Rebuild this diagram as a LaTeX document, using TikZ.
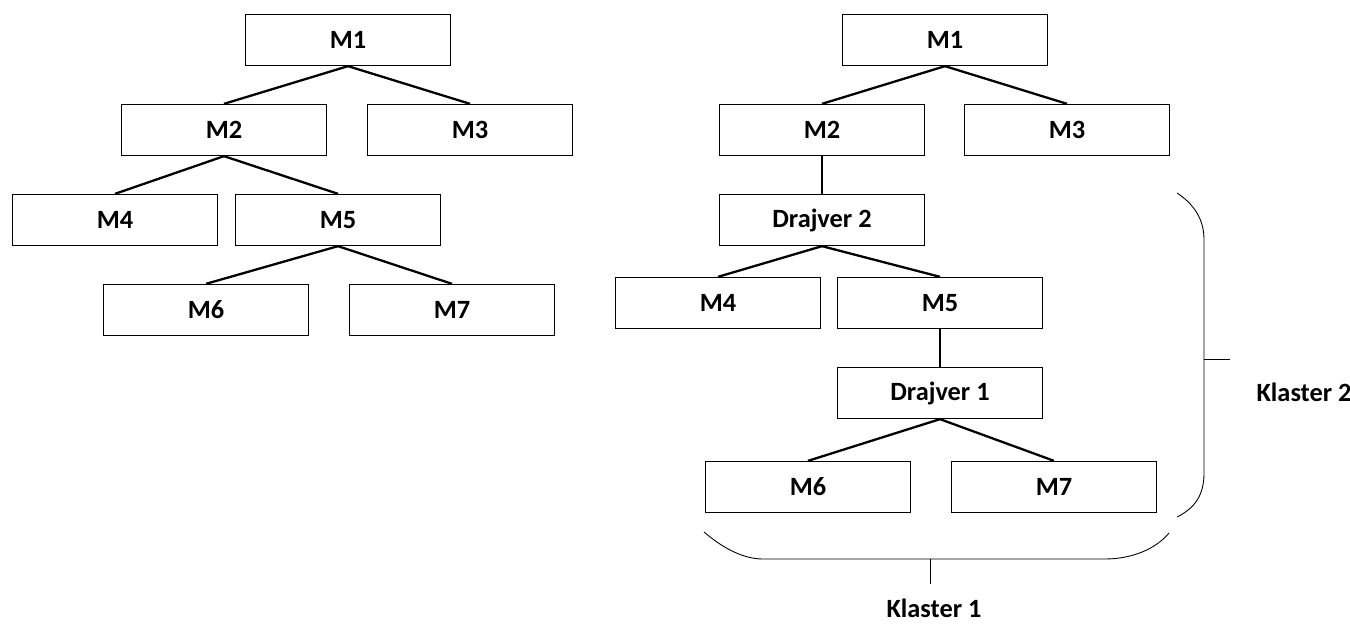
\documentclass[tikz,border=0pt]{standalone}
\usepackage{fontspec}
\setmainfont{Carlito}
\usetikzlibrary{positioning}
\tikzstyle{modul} = [rectangle, minimum width=4.1cm, minimum height=1.02cm, text centered, draw=black, line width=0.75pt, font=\fontsize{15}{17}\selectfont\bfseries]
\tikzstyle{veza} = [line width=1.3pt]
\tikzstyle{zagrada} = [line width=0.5pt]
\tikzstyle{klaster} = [font=\fontsize{15}{17}\selectfont\bfseries, inner sep=1pt]

\begin{document}
\begin{tikzpicture}[node distance=1.8cm]
\useasboundingbox (0,0) rectangle (27,-12.48);

% hijerarhija modula
\node (m1) [modul] at (6.96,-0.80) {M1};
\node (m2) [modul, below of=m1, xshift=-2.48cm] {M2};
\node (m3) [modul, below of=m1, xshift=2.44cm] {M3};
\node (m4) [modul, below of=m2, xshift=-2.18cm] {M4};
\node (m5) [modul, below of=m2, xshift=2.28cm] {M5};
\node (m6) [modul, below of=m5, xshift=-2.64cm] {M6};
\node (m7) [modul, below of=m5, xshift=2.28cm] {M7};

\draw [veza] (m1.south) -- (m2.north);
\draw [veza] (m1.south) -- (m3.north);
\draw [veza] (m2.south) -- (m4.north);
\draw [veza] (m2.south) -- (m5.north);
\draw [veza] (m5.south) -- (m6.north);
\draw [veza] (m5.south) -- (m7.north);

% ista hijerarhija sa drajverima
\node (rm1) [modul] at (18.90,-0.80) {M1};
\node (rm2) [modul, below of=rm1, xshift=-2.46cm] {M2};
\node (rm3) [modul, below of=rm1, xshift=2.44cm] {M3};
\node (drv2) [modul, below of=rm2] {Drajver 2};
\node (rm4) [modul, below of=drv2, yshift=0.14cm, xshift=-2.08cm] {M4};
\node (rm5) [modul, below of=drv2, yshift=0.14cm, xshift=2.36cm] {M5};
\node (drv1) [modul, below of=rm5] {Drajver 1};
\node (rm6) [modul, below of=drv1, yshift=-0.08cm, xshift=-2.64cm] {M6};
\node (rm7) [modul, below of=drv1, yshift=-0.08cm, xshift=2.28cm] {M7};

\draw [veza] (rm1.south) -- (rm2.north);
\draw [veza] (rm1.south) -- (rm3.north);
\draw [veza] (rm2.south) -- (drv2.north);
\draw [veza] (drv2.south) -- (rm4.north);
\draw [veza] (drv2.south) -- (rm5.north);
\draw [veza] (rm5.south) -- (drv1.north);
\draw [veza] (drv1.south) -- (rm6.north);
\draw [veza] (drv1.south) -- (rm7.north);

% klasteri
\coordinate (k2) at (24.60,-7.18);
\coordinate (k1) at (18.60,-11.68);
\draw [zagrada] (23.54,-3.86) .. controls (23.90,-4.10) and (24.08,-4.40) .. (24.08,-4.80) -- (24.08,-9.46) .. controls (24.08,-9.90) and (23.90,-10.16) .. (23.54,-10.34);
\draw [zagrada] (24.08,-7.18) -- (k2);
\draw [zagrada] (14.08,-10.64) .. controls (14.50,-11.00) and (14.90,-11.18) .. (15.26,-11.18) -- (22.10,-11.18) .. controls (22.60,-11.18) and (23.10,-11.00) .. (23.38,-10.66);
\draw [zagrada] (18.60,-11.18) -- (k1);
\node (klaster2) [klaster] at (26.08,-7.84) {Klaster 2};
\node (klaster1) [klaster] at (18.68,-12.16) {Klaster 1};

\end{tikzpicture}
\end{document}
